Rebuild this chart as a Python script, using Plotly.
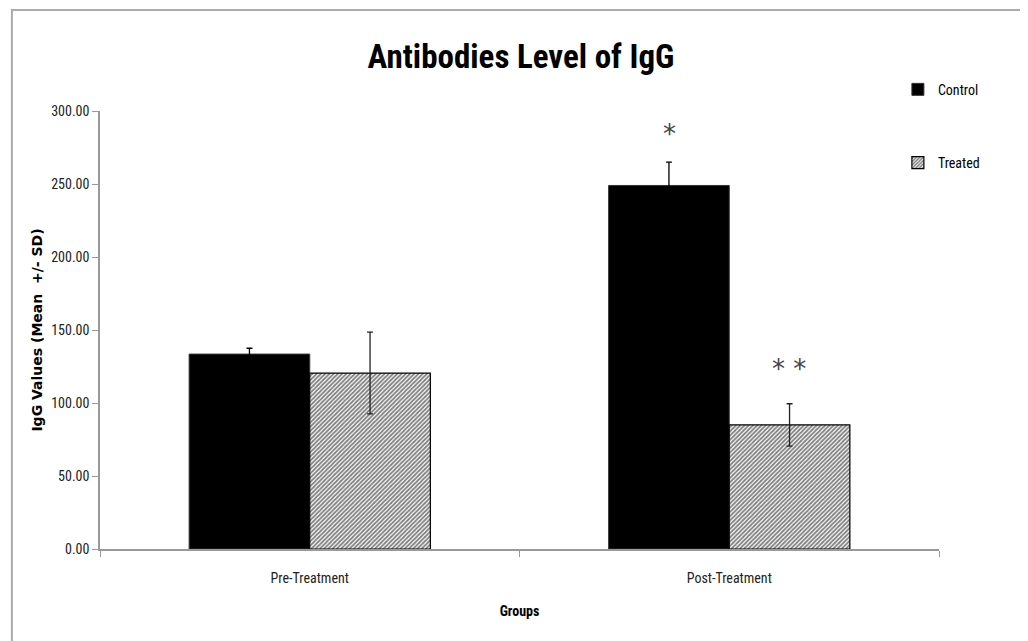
import plotly.graph_objects as go

groups = ["Pre-Treatment", "Post-Treatment"]
control_mean = [133.5, 249.0]
control_sd = [4.0, 16.0]
treated_mean = [120.5, 85.0]
treated_sd = [28.0, 14.5]
y_ticks = [0, 50, 100, 150, 200, 250, 300]

sig_text = ["*", "* *"]
sig_group = ["Post-Treatment", "Post-Treatment"]
sig_y = [284, 123]
sig_shift = [-60, 60]

FONT = "Liberation Sans Narrow, Roboto Condensed, Roboto, sans-serif"
TICKFONT = "Liberation Sans Narrow, Roboto Condensed, Roboto, sans-serif"

fig = go.Figure()
fig.add_trace(go.Bar(
    name="Control", x=groups, y=control_mean,
    marker=dict(color="black", line=dict(color="#333", width=1)),
    error_y=dict(type="data", array=control_sd, color="black", thickness=1.3, width=3),
    legendgroup="c",
))
fig.add_trace(go.Bar(
    name="Treated", x=groups, y=treated_mean,
    marker=dict(color="white", line=dict(color="black", width=1.2),
                pattern=dict(shape="/", fgcolor="black", bgcolor="white", size=3, solidity=0.6)),
    error_y=dict(type="data", array=treated_sd, color="#222", thickness=1.3, width=3),
    legendgroup="t",
))

for t, g, yv, sh in zip(sig_text, sig_group, sig_y, sig_shift):
    fig.add_annotation(x=g, y=yv, xref="x", yref="y", text=t, showarrow=False,
                       xshift=sh, font=dict(size=26, color="#444", family="DejaVu Sans"))

fig.update_layout(
    width=1028, height=641,
    paper_bgcolor="white", plot_bgcolor="white",
    margin=dict(l=92, r=97, t=103, b=100),
    barmode="group", bargap=0.425, bargroupgap=0,
    title=dict(text="<b>Antibodies Level of IgG</b>", x=0.499, xanchor="center",
               y=0.925, yanchor="middle",
               font=dict(family=FONT, size=33, color="black")),
    legend=dict(x=0.951, xref="paper", y=1.085, yanchor="top", xanchor="left",
                font=dict(family=TICKFONT, size=14, color="black"),
                tracegroupgap=52, itemwidth=30, bgcolor="rgba(0,0,0,0)"),
    font=dict(family=TICKFONT, color="#222"),
    showlegend=True,
)
fig.update_xaxes(
    showline=True, linecolor="#999", linewidth=1.5,
    ticks="outside", tickcolor="#999", ticklen=6, tickson="boundaries",
    ticklabelstandoff=15,
    tickfont=dict(family=TICKFONT, size=14, color="#222"),
    title=dict(text="<b>Groups</b>", font=dict(family=TICKFONT, size=14, color="black"), standoff=22),
)
fig.update_yaxes(
    range=[0, 300], tickvals=y_ticks, tickformat=".2f",
    showline=True, linecolor="#999", linewidth=1.5,
    ticks="outside", tickcolor="#999", ticklen=6,
    showgrid=False, zeroline=False,
    tickfont=dict(family=TICKFONT, size=14, color="#222"),
    title=dict(text="<b>IgG Values (Mean  +/- SD)</b>",
               font=dict(family="DejaVu Sans", size=14, color="black"), standoff=5),
)
fig.add_shape(type="rect", xref="paper", yref="paper",
              x0=-0.105, x1=1.1025, y0=-0.226, y1=1.2306,
              line=dict(color="#aaa", width=2), fillcolor="rgba(0,0,0,0)", layer="below")

fig.write_html("out.html")
